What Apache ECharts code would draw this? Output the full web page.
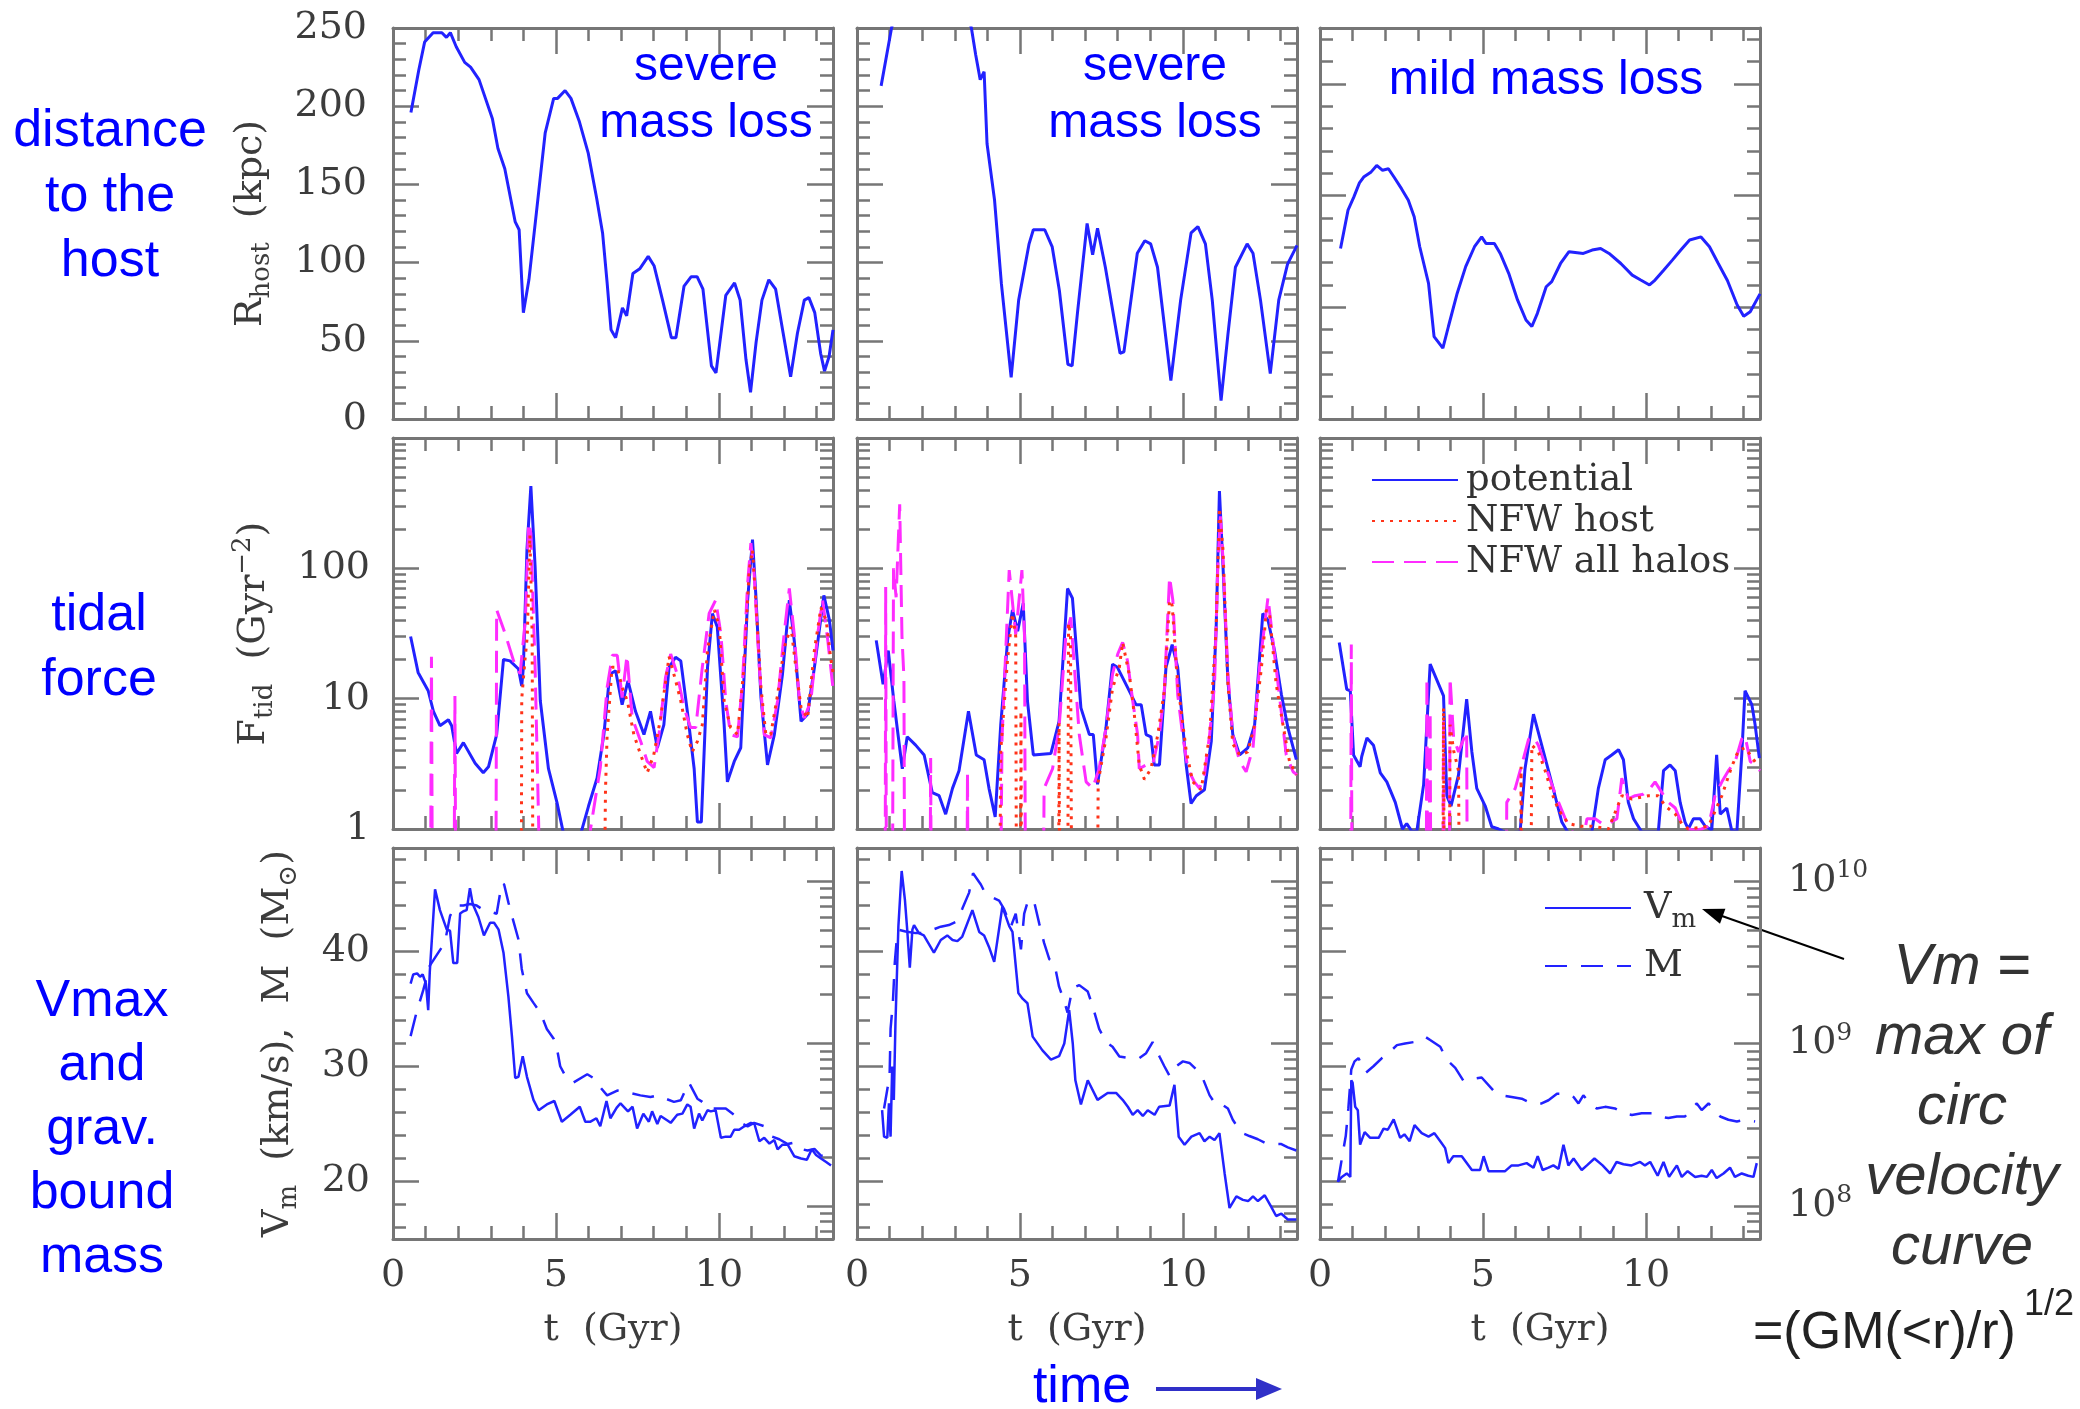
<!DOCTYPE html>
<html>
<head>
<meta charset="utf-8">
<title>Distance, tidal force and bound mass of three subhalos</title>
<script src="https://cdn.jsdelivr.net/npm/echarts@6/dist/echarts.min.js"></script>
<style>
  html, body { margin: 0; padding: 0; background: #fff; }
  #main { width: 2080px; height: 1409px; }
</style>
</head>
<body>
<div id="main"></div>
<script>
// ---- axes / ticks ----
var T_MAX = 13.5;
var tMajor = [0, 5, 10];
var tMinor = [1, 2, 3, 4, 6, 7, 8, 9, 11, 12, 13];
var rMax = [250, 250, 175];
var rMajor = [0, 50, 100, 150, 200, 250];
var rMinor = [10, 20, 30, 40, 60, 70, 80, 90, 110, 120, 130, 140, 160, 170, 180, 190, 210, 220, 230, 240];
var fMin = 1, fMax = 1000;
var fMinorTicks = [2, 3, 4, 5, 6, 7, 8, 9, 20, 30, 40, 50, 60, 70, 80, 90, 200, 300, 400, 500, 600, 700, 800, 900];
var vMin = 15, vMax = 49;
var vMajor = [20, 30, 40];
var vMinor = [16, 18, 22, 24, 26, 28, 32, 34, 36, 38, 42, 44, 46, 48];
var mMin = 6.24e7, mMax = 1.603e10;
var mMinorTicks = [7e7, 8e7, 9e7, 2e8, 3e8, 4e8, 5e8, 6e8, 7e8, 8e8, 9e8, 2e9, 3e9, 4e9, 5e9, 6e9, 7e9, 8e9, 9e9];

// ---- row 1: distance to the host, R_host (kpc) vs t (Gyr) ----
var rHostA = [[0.55,196],[0.79,223],[0.97,241],[1.23,247],[1.50,247],[1.64,244],[1.76,247],[1.94,238],[2.20,228],[2.38,225],[2.64,217],[3.05,192],[3.22,173],[3.43,160],[3.75,126],[3.87,121],[4.00,68],[4.17,89],[4.40,132],[4.67,183],[4.93,205],[5.05,205],[5.28,210],[5.46,205],[5.72,190],[5.99,170],[6.25,141],[6.43,119],[6.57,87],[6.69,57],[6.83,52],[7.04,71],[7.17,66],[7.36,93],[7.57,96],[7.83,104],[8.01,98],[8.27,76],[8.54,52],[8.68,52],[8.93,85],[9.15,91],[9.33,91],[9.51,83],[9.77,34],[9.91,29.5],[10.21,79],[10.48,87],[10.65,76],[10.83,38],[10.97,17],[11.14,49],[11.32,76],[11.53,89],[11.74,83],[11.97,55],[12.20,27],[12.41,55],[12.62,76],[12.76,77.6],[12.94,68],[13.12,42],[13.24,30.6],[13.38,40],[13.5,57]];
var rHostB = [[0.74,213],[1.06,250],[1.5,285],[2.3,300],[3.0,285],[3.51,250],[3.64,233],[3.78,217],[3.90,222],[3.99,176],[4.22,140],[4.43,86.5],[4.73,26.7],[4.96,76],[5.28,112],[5.41,121],[5.76,121],[5.99,110],[6.21,82],[6.47,35],[6.60,34],[6.77,69],[7.06,125],[7.23,105],[7.38,122],[7.62,97],[8.07,42],[8.19,43],[8.60,106],[8.83,114],[9.01,112],[9.22,97],[9.63,24.6],[9.93,76],[10.25,119],[10.46,123],[10.69,112],[10.90,76],[11.17,11.8],[11.38,54],[11.61,97],[11.97,112],[12.15,106],[12.38,76],[12.68,29],[12.94,76],[13.21,99],[13.5,111]];
var rHostC = [[0.63,76.3],[0.86,93.5],[1.04,99.4],[1.21,105.7],[1.34,108.3],[1.57,110.6],[1.74,113.5],[1.92,111.3],[2.10,112],[2.27,108.3],[2.50,103.1],[2.71,97.9],[2.89,90.5],[3.06,77.1],[3.33,60.7],[3.50,36.9],[3.77,31.7],[3.94,41.4],[4.21,56.3],[4.47,68.2],[4.74,77.1],[4.96,81.5],[5.09,78.6],[5.35,78.6],[5.53,74.1],[5.79,65.2],[6.06,53.3],[6.32,44.3],[6.50,41.4],[6.67,47.3],[6.94,59.2],[7.11,61.5],[7.38,69.6],[7.64,74.9],[8.08,74.1],[8.35,75.6],[8.61,76.3],[8.87,74.1],[9.23,69.6],[9.58,64.4],[9.84,62.2],[10.11,60.0],[10.28,62.2],[10.55,66.7],[10.81,71.1],[11.07,75.6],[11.34,80.1],[11.69,81.5],[11.95,77.1],[12.22,69.6],[12.5,62],[12.8,51],[13.0,46],[13.2,48],[13.5,56]];

// ---- row 2: tidal force F_tid (Gyr^-2); values under 1 fall below the axis ----
var fPotA = [[0.54,30],[0.77,15.9],[1.08,11.5],[1.24,8.0],[1.44,6.2],[1.70,6.9],[1.80,6.2],[1.95,3.8],[2.16,4.6],[2.52,3.2],[2.77,2.7],[2.93,3.0],[3.18,5.3],[3.39,20],[3.59,19.5],[3.85,16.9],[3.95,12.5],[4.0,17.4],[4.11,139],[4.23,428],[4.36,103],[4.52,9.6],[4.77,2.9],[5.03,1.6],[5.24,0.9],[5.75,0.9],[6.0,1.5],[6.26,2.45],[6.47,5.3],[6.65,15.4],[6.83,16.4],[7.03,9.0],[7.21,13.7],[7.44,8.0],[7.70,5.3],[7.90,8.0],[8.11,4.2],[8.31,6.3],[8.47,17.4],[8.67,20.8],[8.83,19.5],[9.03,8.0],[9.24,2.9],[9.34,1.13],[9.46,1.13],[9.65,17.4],[9.80,45],[9.95,35.4],[10.16,6.3],[10.26,2.3],[10.47,3.3],[10.67,4.2],[10.88,57],[11.03,166],[11.13,64],[11.29,10.2],[11.49,3.1],[11.70,5.3],[11.95,15.4],[12.16,57],[12.31,28],[12.52,6.7],[12.72,7.6],[12.93,17.4],[13.22,62],[13.39,40],[13.5,23.4]];
var fHostA = [[0.5,0.05],[3.93,0.05],[3.95,10],[4.05,20],[4.12,30],[4.2,180],[4.27,30],[4.3,0.05],[6.45,0.05],[6.52,2],[6.57,5.3],[6.72,17.4],[6.88,17.4],[7.03,12.2],[7.19,9.6],[7.39,5.3],[7.60,3.7],[7.80,2.7],[8.0,3.7],[8.21,7.1],[8.47,21],[8.67,13.8],[8.83,9.6],[9.03,5.3],[9.18,3.9],[9.34,4.7],[9.49,6.3],[9.65,23.6],[9.86,48],[10.01,35.5],[10.16,9.6],[10.36,6],[10.57,5.3],[10.77,17.4],[10.93,98],[11.03,138],[11.13,57],[11.29,12.2],[11.44,5.3],[11.59,5.3],[11.80,10.7],[12.0,24.5],[12.21,35.5],[12.36,17.4],[12.52,8.5],[12.72,7.1],[12.93,23.6],[13.13,50],[13.29,40],[13.44,19.5],[13.5,16]];
var fAllA = [[0.5,0.05],[1.14,0.05],[1.18,21],[1.22,0.05],[1.86,0.05],[1.90,10.5],[1.94,0.05],[3.15,0.05],[3.18,48],[3.44,31.6],[3.70,19.5],[3.90,15.5],[4.06,40],[4.16,224],[4.23,186],[4.36,17.4],[4.47,1.07],[4.5,0.05],[6.0,0.05],[6.06,1.0],[6.36,2.96],[6.57,12.2],[6.73,21.5],[6.88,21.5],[7.03,10.2],[7.18,21.5],[7.34,7.1],[7.60,4.7],[7.80,3.3],[8.01,2.96],[8.16,5.3],[8.36,14.5],[8.52,22],[8.72,15.4],[8.93,8.5],[9.13,6],[9.29,6],[9.49,17.4],[9.70,45],[9.90,57],[10.06,31.4],[10.21,9.6],[10.36,5.3],[10.57,5.1],[10.72,12.9],[10.88,76],[10.98,156],[11.08,91],[11.24,17.4],[11.39,5.3],[11.59,5],[11.80,9.6],[12.0,31.4],[12.16,70],[12.31,31.4],[12.47,9.6],[12.62,7.1],[12.82,9.6],[13.03,31.4],[13.18,57],[13.34,28],[13.5,12]];

var fPotB = [[0.59,28],[0.80,12.9],[0.96,23.4],[1.13,9.6],[1.39,2.9],[1.54,5.1],[1.80,4.4],[2.06,3.7],[2.31,1.9],[2.52,1.8],[2.72,1.3],[2.93,2.05],[3.13,2.8],[3.42,8.0],[3.66,3.7],[3.90,3.4],[4.05,2.05],[4.24,1.24],[4.41,6.3],[4.62,28],[4.77,48],[4.93,33],[5.10,54],[5.23,9.6],[5.41,3.7],[5.95,3.8],[6.20,6.7],[6.46,70],[6.61,59],[6.87,8.5],[7.13,5.3],[7.25,5.3],[7.38,2.2],[7.64,6.0],[7.84,18.4],[7.99,17.4],[8.30,12.2],[8.56,9.0],[8.72,9.0],[8.87,5.3],[9.02,5.1],[9.12,3.1],[9.28,3.1],[9.48,17.4],[9.67,26],[9.84,17.4],[10.10,3.1],[10.25,1.57],[10.41,1.8],[10.66,2.0],[10.87,4.7],[11.02,35],[11.12,392],[11.23,103],[11.38,13.7],[11.53,5.3],[11.74,3.7],[11.99,4.2],[12.20,6.3],[12.45,45],[12.61,40],[12.81,23.4],[13.02,10.8],[13.22,6.0],[13.48,3.4]];
var fHostB = [[0.55,0.05],[4.36,0.05],[4.41,4],[4.62,20],[4.77,45],[4.87,30],[4.90,0.05],[5.01,0.05],[5.03,8],[5.06,0.05],[6.18,0.05],[6.20,6.5],[6.23,0.05],[6.46,0.05],[6.49,38],[6.55,30],[6.6,0.05],[7.36,0.05],[7.40,2.3],[7.64,5],[7.84,12],[8.05,17.4],[8.15,27],[8.36,15],[8.51,7.5],[8.66,3.1],[8.82,2.4],[9.02,2.9],[9.23,5.3],[9.43,11.5],[9.59,57],[9.67,52],[9.84,13],[10.10,4],[10.30,2.3],[10.56,2],[10.82,5.3],[11.02,35],[11.12,290],[11.23,138],[11.38,13],[11.53,4.5],[11.74,3.7],[11.99,3.9],[12.20,6.3],[12.41,17.4],[12.56,48],[12.66,44],[12.86,13],[13.07,6.3],[13.27,3.3],[13.48,2.6]];
var fAllB = [[0.55,0.05],[0.86,0.05],[0.88,72],[0.91,0.05],[1.08,0.05],[1.12,100],[1.2,60],[1.31,310],[1.38,30],[1.44,14.5],[1.47,0.05],[2.23,0.05],[2.26,3.5],[2.29,0.05],[3.36,0.05],[3.39,2.75],[3.42,0.05],[4.38,0.05],[4.45,5],[4.67,97],[4.87,31],[5.06,97],[5.14,30],[5.18,0.05],[5.7,0.05],[5.74,2.05],[6.0,2.9],[6.2,6],[6.41,31],[6.56,42],[6.67,17.4],[6.82,5.3],[7.03,2.3],[7.23,2.05],[7.43,2.9],[7.64,6],[7.84,15.4],[8.0,22],[8.15,27],[8.30,19.5],[8.46,9.6],[8.61,5.3],[8.66,2.9],[8.87,3.1],[9.07,3.1],[9.28,5.3],[9.43,11.5],[9.59,86],[9.69,57],[9.84,10.7],[9.99,5.3],[10.15,2.9],[10.35,2.3],[10.51,2.05],[10.66,2.6],[10.82,5.3],[10.97,12.9],[11.07,103],[11.15,251],[11.23,116],[11.38,15.4],[11.53,5.3],[11.74,3.3],[11.94,2.75],[12.15,4.2],[12.35,17.4],[12.61,60],[12.76,28],[12.97,10.1],[13.17,3.7],[13.38,2.75],[13.5,2.6]];

var fPotC = [[0.59,27],[0.82,11.8],[0.93,11.5],[1.03,3.7],[1.08,3.5],[1.23,3.0],[1.28,3.6],[1.44,5.0],[1.64,4.4],[1.85,2.7],[2.05,2.3],[2.31,1.6],[2.53,1.0],[2.66,1.1],[2.82,0.96],[2.97,0.96],[3.18,2.2],[3.38,18.4],[3.79,10.5],[3.89,1.8],[4.02,1.5],[4.25,2.6],[4.50,9.9],[4.66,3.9],[4.81,2.05],[5.07,1.5],[5.27,1.04],[5.48,1.0],[5.73,0.93],[6.14,0.95],[6.29,2.9],[6.55,7.6],[7.01,2.8],[7.21,1.8],[7.42,1.13],[7.62,0.93],[8.34,0.95],[8.54,2.05],[8.75,3.4],[8.95,3.7],[9.16,4.06],[9.31,3.4],[9.46,1.6],[9.62,1.2],[9.87,0.95],[10.38,0.95],[10.54,2.8],[10.74,3.1],[10.90,2.8],[11.05,1.6],[11.20,1.13],[11.30,1.0],[11.46,1.2],[11.66,1.2],[11.82,1.05],[12.02,0.98],[12.17,3.7],[12.28,1.3],[12.48,1.45],[12.63,0.98],[12.79,0.95],[12.94,3.7],[13.04,11.5],[13.25,9.0],[13.35,6.3],[13.48,3.5]];
var fHostC = [[0.55,0.05],[3.76,0.05],[3.79,8.5],[3.82,0.05],[3.96,0.05],[3.99,6.3],[4.1,4],[4.25,2.8],[4.30,0.05],[6.14,0.05],[6.17,3],[6.2,0.05],[6.45,0.05],[6.50,4.4],[6.70,3.9],[6.91,2.8],[7.11,1.9],[7.32,1.4],[7.62,1.1],[8.0,1.05],[8.34,1.05],[8.85,1.0],[9.26,1.8],[9.57,1.7],[10.08,1.8],[10.38,1.8],[10.59,1.5],[10.90,1.3],[11.10,1.1],[11.30,1.0],[11.92,1.05],[12.33,1.8],[12.63,3.0],[12.84,4.0],[13.04,4.2],[13.24,3.6],[13.45,3.0]];
var fAllC = [[0.55,0.05],[0.93,0.05],[0.96,26],[0.99,0.05],[3.25,0.05],[3.28,14.5],[3.31,0.05],[3.35,0.05],[3.38,8],[3.41,0.05],[3.76,0.05],[3.79,7],[3.82,0.05],[3.96,0.05],[3.99,14.5],[4.1,5],[4.25,3.9],[4.50,5.6],[4.53,0.05],[5.70,0.05],[5.73,1.6],[5.99,2.05],[6.19,3.1],[6.40,4.9],[6.55,5.1],[6.70,4.4],[6.91,3.1],[7.11,2.2],[7.32,1.6],[7.62,1.05],[7.72,0.98],[7.9,0.8],[8.1,0.9],[8.19,1.2],[8.44,1.2],[8.65,1.1],[8.85,1.1],[9.11,1.2],[9.26,2.45],[9.46,1.7],[9.67,1.8],[9.92,1.85],[10.13,2.05],[10.28,2.3],[10.49,1.9],[10.69,1.6],[10.90,1.45],[11.10,1.1],[11.30,1.0],[11.51,0.98],[11.71,1.0],[11.92,1.05],[12.12,1.8],[12.33,2.3],[12.53,2.8],[12.74,3.3],[12.94,4.9],[13.04,5.2],[13.20,3.3],[13.35,3.1],[13.5,2.8]];

// ---- row 3: Vm (km/s, left axis) and bound mass M (Msun, right log axis) ----
var vmA = [[0.54,37.2],[0.62,38.0],[0.74,38.1],[0.83,37.8],[0.91,38.0],[1.01,37.2],[1.08,34.9],[1.13,38.3],[1.29,45.4],[1.44,43.6],[1.65,41.9],[1.75,41.8],[1.85,39.0],[1.97,39.0],[2.06,43.3],[2.16,43.5],[2.26,43.6],[2.36,45.5],[2.45,44.1],[2.62,43.0],[2.79,41.4],[2.98,42.5],[3.10,42.5],[3.24,41.9],[3.39,39.9],[3.54,36.1],[3.65,32.6],[3.75,29.0],[3.85,29.1],[3.98,30.9],[4.11,29.1],[4.31,27.1],[4.47,26.2],[4.72,26.7],[4.95,27.0],[5.18,25.2],[5.44,25.8],[5.73,26.5],[5.90,25.2],[6.06,25.2],[6.24,25.5],[6.36,24.8],[6.55,27.0],[6.67,25.5],[6.86,26.4],[6.98,26.8],[7.21,26.1],[7.35,26.5],[7.49,24.6],[7.68,25.9],[7.85,25.2],[7.95,26.1],[8.11,25.0],[8.21,25.7],[8.42,25.3],[8.52,25.1],[8.72,25.8],[8.88,25.9],[9.03,26.7],[9.13,26.5],[9.24,24.6],[9.39,25.9],[9.49,25.3],[9.65,26.2],[9.75,26.1],[9.90,26.2],[10.06,23.8],[10.21,23.9],[10.36,23.9],[10.47,24.5],[10.62,24.5],[10.78,24.8],[10.98,25.1],[11.09,25.0],[11.24,23.5],[11.39,23.8],[11.55,23.3],[11.70,23.6],[11.80,22.8],[11.95,23.2],[12.11,23.2],[12.31,22.2],[12.52,22.0],[12.70,21.9],[12.85,22.8],[12.98,22.3],[13.13,22.0],[13.29,21.7],[13.44,21.4]];
var massA = [[0.54,1.11e9],[0.72,1.55e9],[0.93,2.14e9],[1.13,3.02e9],[1.39,3.63e9],[1.59,4.17e9],[1.75,6.10e9],[1.90,7.08e9],[2.16,7.08e9],[2.36,7.24e9],[2.57,7.08e9],[2.72,6.76e9],[3.18,6.31e9],[3.34,9.77e9],[3.41,9.55e9],[3.54,7.41e9],[3.70,5.62e9],[3.85,4.37e9],[3.95,2.88e9],[4.11,2.04e9],[4.31,1.78e9],[4.52,1.55e9],[4.72,1.23e9],[4.93,1.07e9],[5.01,9.77e8],[5.13,7.24e8],[5.34,6.03e8],[5.54,5.75e8],[5.96,6.46e8],[6.21,6.03e8],[6.36,5.37e8],[6.57,4.79e8],[6.88,5.13e8],[7.18,5.01e8],[7.59,4.79e8],[7.90,4.68e8],[8.11,4.79e8],[8.36,4.57e8],[8.62,4.37e8],[8.83,4.47e8],[9.08,5.75e8],[9.34,4.57e8],[9.49,4.37e8],[9.70,3.98e8],[10.21,3.98e8],[10.47,3.63e8],[10.67,3.24e8],[10.88,3.09e8],[11.08,3.24e8],[11.39,3.09e8],[11.59,2.69e8],[11.85,2.57e8],[12.11,2.40e8],[12.31,2.45e8],[12.52,2.24e8],[12.72,2.19e8],[12.93,2.24e8],[13.13,2.04e8],[13.44,2.00e8]];

var vmB = [[0.77,26.2],[0.83,23.9],[0.93,23.8],[0.98,26.8],[1.03,23.9],[1.08,30],[1.13,27.1],[1.18,33.8],[1.27,42.2],[1.37,47.0],[1.47,44.5],[1.54,41.9],[1.62,38.6],[1.70,41.9],[1.75,42.3],[1.90,41.6],[2.05,41.4],[2.36,39.9],[2.57,41.0],[2.77,41.4],[2.93,41.0],[3.08,40.9],[3.23,41.3],[3.54,43.6],[3.75,41.7],[3.90,41.4],[4.05,40.4],[4.21,39.1],[4.46,43.9],[4.67,42.2],[4.77,41.7],[4.95,36.4],[5.08,35.9],[5.23,35.5],[5.39,32.6],[5.69,31.4],[5.95,30.6],[6.20,30.9],[6.36,32.0],[6.51,34.9],[6.62,32.0],[6.70,28.8],[6.87,26.7],[7.08,28.8],[7.38,27.1],[7.69,27.7],[7.95,27.7],[8.15,27.1],[8.31,26.5],[8.46,25.8],[8.61,26.2],[8.77,25.7],[8.92,26.2],[9.13,25.8],[9.27,26.5],[9.59,26.6],[9.74,28.4],[9.87,23.9],[10.05,23.2],[10.26,23.9],[10.51,24.2],[10.66,23.5],[10.82,23.9],[10.97,23.6],[11.12,24.2],[11.28,20.7],[11.43,17.7],[11.64,18.7],[11.84,18.4],[12.0,18.3],[12.15,18.7],[12.30,18.3],[12.51,18.8],[12.71,17.8],[12.86,17.0],[13.02,17.2],[13.22,16.7],[13.48,16.7]];
var massB = [[0.83,3.98e8],[1.0,6.31e8],[1.03,1.23e9],[1.10,1.78e9],[1.16,3.16e9],[1.21,4.17e9],[1.29,5.01e9],[1.49,4.90e9],[1.80,4.79e9],[2.05,4.79e9],[2.57,5.25e9],[2.82,5.37e9],[3.03,5.62e9],[3.23,6.76e9],[3.44,8.51e9],[3.56,1.12e10],[3.80,9.55e9],[3.95,8.32e9],[4.16,7.94e9],[4.36,7.59e9],[4.51,6.76e9],[4.72,5.25e9],[4.87,6.31e9],[5.03,3.80e9],[5.13,6.31e9],[5.26,7.76e9],[5.44,7.41e9],[5.59,5.50e9],[5.74,4.17e9],[5.90,3.31e9],[6.05,3.16e9],[6.20,2.24e9],[6.36,1.82e9],[6.46,1.55e9],[6.61,2.19e9],[6.82,2.29e9],[7.08,2.09e9],[7.23,1.70e9],[7.43,1.23e9],[7.64,1.02e9],[7.84,9.55e8],[8.05,8.32e8],[8.36,8.13e8],[8.66,8.13e8],[8.87,8.71e8],[9.07,1.02e9],[9.28,8.32e8],[9.43,7.24e8],[9.59,6.31e8],[9.79,7.24e8],[10.0,7.76e8],[10.20,7.59e8],[10.41,6.92e8],[10.62,6.03e8],[10.82,4.79e8],[11.02,4.17e8],[11.23,4.17e8],[11.38,3.98e8],[11.53,3.39e8],[11.79,2.82e8],[12.04,2.69e8],[12.30,2.57e8],[12.51,2.45e8],[12.76,2.40e8],[13.02,2.40e8],[13.22,2.29e8],[13.48,2.19e8]];

var vmC = [[0.55,20.0],[0.67,20.4],[0.82,20.7],[0.93,20.4],[0.96,28.8],[1.0,28.6],[1.08,26.5],[1.16,26.2],[1.23,23.2],[1.37,24.3],[1.54,23.8],[1.80,23.8],[1.95,24.6],[2.08,24.5],[2.26,25.4],[2.46,23.8],[2.59,24.1],[2.75,23.5],[2.90,24.9],[3.12,24.2],[3.33,23.9],[3.51,24.2],[3.69,23.5],[3.84,22.9],[3.94,21.6],[4.09,22.2],[4.35,22.2],[4.66,21.0],[4.91,21.0],[5.02,22.2],[5.17,20.9],[5.42,20.9],[5.68,20.9],[5.88,21.4],[6.09,21.4],[6.34,21.6],[6.55,21.2],[6.68,22.2],[6.83,21.0],[7.01,21.2],[7.16,21.4],[7.32,21.1],[7.47,23.2],[7.62,21.4],[7.78,22.0],[8.03,21.0],[8.19,21.4],[8.42,22.0],[8.67,21.4],[8.90,20.7],[9.10,21.7],[9.31,21.5],[9.56,21.4],[9.82,21.7],[9.97,21.4],[10.13,21.7],[10.36,20.5],[10.54,21.7],[10.71,20.4],[10.95,21.4],[11.10,20.4],[11.28,20.9],[11.51,20.4],[11.71,20.5],[11.87,20.4],[12.02,21.0],[12.17,20.3],[12.38,20.7],[12.58,21.2],[12.73,20.4],[12.94,20.7],[13.14,20.5],[13.30,20.4],[13.40,21.6]];
var massC = [[0.55,1.40e8],[0.67,1.95e8],[0.79,2.69e8],[0.87,3.98e8],[0.96,6.92e8],[1.06,7.76e8],[1.18,8.13e8],[1.28,7.41e8],[1.41,6.61e8],[1.64,7.24e8],[1.90,8.13e8],[2.10,8.71e8],[2.36,9.77e8],[2.61,1.00e9],[2.87,1.02e9],[3.07,1.07e9],[3.23,1.10e9],[3.38,1.05e9],[3.69,9.55e8],[3.84,8.32e8],[3.99,7.59e8],[4.15,7.08e8],[4.40,5.89e8],[4.66,6.03e8],[4.96,6.17e8],[5.32,5.13e8],[5.58,4.79e8],[5.88,4.68e8],[6.19,4.57e8],[6.50,4.27e8],[6.80,4.27e8],[7.01,4.47e8],[7.27,4.90e8],[7.57,4.90e8],[7.78,4.68e8],[7.93,4.27e8],[8.08,4.79e8],[8.29,4.27e8],[8.49,3.98e8],[8.75,4.07e8],[9.05,3.98e8],[9.31,3.72e8],[9.57,3.63e8],[9.87,3.72e8],[10.18,3.72e8],[10.43,3.55e8],[10.69,3.47e8],[10.95,3.55e8],[11.20,3.55e8],[11.41,3.98e8],[11.56,4.27e8],[11.71,3.89e8],[11.92,4.27e8],[12.07,3.98e8],[12.28,3.55e8],[12.53,3.39e8],[12.79,3.31e8],[13.04,3.39e8],[13.35,3.31e8]];

var rHost = [rHostA, rHostB, rHostC];
var fPot = [fPotA, fPotB, fPotC];
var fHost = [fHostA, fHostB, fHostC];
var fAll = [fAllA, fAllB, fAllC];
var vm = [vmA, vmB, vmC];
var mass = [massA, massB, massC];

// ---- layout / style ----
var FRAME = '#767676';
var TXT = '#3c3c3c';
var SERIF = '"DejaVu Serif", serif';
var SANS = '"Liberation Sans", Arial, sans-serif';
var LINE_BLUE = '#2222ff';
var RED = '#ff3319';
var MAGENTA = '#ff2cff';
var colLeft = [393, 857, 1320];
var rowTop = [28, 438, 848];
var PW = 440, PH = 391;

var grid = [], xAxis = [], yAxis = [], series = [];

var subRich = {
  t: { fontFamily: SERIF, fontSize: 38, color: TXT, lineHeight: 48 },
  s: { fontFamily: SERIF, fontSize: 26, color: TXT, lineHeight: 24, verticalAlign: 'bottom' },
  p: { fontFamily: SERIF, fontSize: 26, color: TXT, lineHeight: 24, verticalAlign: 'top' }
};

function tickLabel(extra) {
  var o = { show: true, fontFamily: SERIF, fontSize: 38, color: TXT, margin: 24 };
  for (var k in extra) o[k] = extra[k];
  return o;
}

function frameAxis(g, pos, range, ticks, len, line) {
  var a = {
    gridIndex: g, position: pos,
    type: range.log ? 'log' : 'value',
    min: range.min, max: range.max,
    axisLine: { show: line, onZero: false, lineStyle: { color: FRAME, width: 3 } },
    axisTick: { show: true, inside: true, length: len, lineStyle: { color: FRAME, width: 2.5 } },
    axisLabel: { show: false },
    splitLine: { show: false },
    nameMoveOverlap: false
  };
  if (range.log) a.logBase = 10;
  if (ticks) a.axisTick.customValues = ticks;
  return a;
}

// one y side = major axis (with frame line) + minor tick axis
function ySide(g, pos, side, label, name) {
  var a = frameAxis(g, pos, side.range, side.ticks, 26, true);
  if (label) a.axisLabel = label;
  if (name) {
    a.name = name.text;
    a.nameLocation = 'middle';
    a.nameGap = name.gap;
    a.nameTextStyle = { rich: subRich };
  }
  yAxis.push(a);
  var idx = yAxis.length - 1;
  yAxis.push(frameAxis(g, pos, side.minorRange || side.range, side.minorTicks, 13, false));
  return idx;
}

function log10All(arr) { return arr.map(function (v) { return Math.log10(v); }); }

function rowSides(r, c) {
  if (r === 0) {
    var m = rMax[c];
    var s = {
      range: { min: 0, max: m },
      ticks: rMajor.filter(function (v) { return v <= m; }),
      minorTicks: rMinor.filter(function (v) { return v < m; })
    };
    return [s, s];
  }
  if (r === 1) {
    var f = {
      range: { log: true, min: fMin, max: fMax },
      minorRange: { min: 0, max: 3 },
      minorTicks: log10All(fMinorTicks)
    };
    return [f, f];
  }
  return [
    { range: { min: vMin, max: vMax }, ticks: vMajor, minorTicks: vMinor },
    { range: { log: true, min: mMin, max: mMax },
      minorRange: { min: Math.log10(mMin), max: Math.log10(mMax) },
      minorTicks: log10All(mMinorTicks) }
  ];
}

var yNames = [
  { text: '{t|R}{s|host}{t|  (kpc)}', gap: 118 },
  { text: '{t|F}{s|tid}{t|  (Gyr}{p|−2}{t|)}', gap: 115 },
  { text: '{t|V}{s|m}{t|  (km/s),  M  (M}{s|⊙}{t|)}', gap: 91 }
];

function leftLabel(r) {
  if (r === 0) return tickLabel({ customValues: rMajor, margin: 26 });
  if (r === 1) return tickLabel({ margin: 23, formatter: function (v) { return v > 999 ? '' : String(Math.round(v)); } });
  return tickLabel({ customValues: vMajor, margin: 23 });
}

function massLabel() {
  return tickLabel({
    margin: 28,
    formatter: function (v) {
      var e = Math.log10(v), n = Math.round(e);
      return Math.abs(e - n) < 1e-4 ? '{b|10}{p|' + n + '}' : '';
    },
    rich: {
      b: { fontFamily: SERIF, fontSize: 38, color: TXT, lineHeight: 46 },
      p: { fontFamily: SERIF, fontSize: 25, color: TXT, lineHeight: 24, verticalAlign: 'top' }
    }
  });
}

function line(name, data, xi, yi, color, width, type) {
  series.push({
    type: 'line', name: name, data: data, xAxisIndex: xi, yAxisIndex: yi,
    symbol: 'none', clip: true, silent: true,
    lineStyle: { color: color, width: width, type: type || 'solid' },
    itemStyle: { color: color }
  });
}

for (var r = 0; r < 3; r++) {
  for (var c = 0; c < 3; c++) {
    var g = grid.length;
    grid.push({ left: colLeft[c], top: rowTop[r], width: PW, height: PH, show: false });
    var tRange = { min: 0, max: T_MAX };

    var xb = frameAxis(g, 'bottom', tRange, tMajor, 26, true);
    if (r === 2) {
      xb.axisLabel = tickLabel({ customValues: tMajor, margin: 18 });
      xb.name = 't  (Gyr)';
      xb.nameLocation = 'middle';
      xb.nameGap = 67;
      xb.nameTextStyle = { fontFamily: SERIF, fontSize: 38, color: TXT, lineHeight: 48 };
    }
    xAxis.push(xb);
    var xi = xAxis.length - 1;
    xAxis.push(frameAxis(g, 'bottom', tRange, tMinor, 13, false));
    xAxis.push(frameAxis(g, 'top', tRange, tMajor, 26, true));
    xAxis.push(frameAxis(g, 'top', tRange, tMinor, 13, false));

    var sides = rowSides(r, c);
    var yl = ySide(g, 'left', sides[0], c === 0 ? leftLabel(r) : null, c === 0 ? yNames[r] : null);
    var yr = ySide(g, 'right', sides[1], (r === 2 && c === 2) ? massLabel() : null, null);

    if (r === 0) {
      line('R_host', rHost[c], xi, yl, LINE_BLUE, 3);
    } else if (r === 1) {
      line('potential', fPot[c], xi, yl, LINE_BLUE, 3);
      line('NFW all halos', fAll[c], xi, yl, MAGENTA, 3, [22, 10]);
      line('NFW host', fHost[c], xi, yl, RED, 3, [3, 6]);
    } else {
      line('Vm', vm[c], xi, yl, LINE_BLUE, 2.5);
      line('M', mass[c], xi, yr, LINE_BLUE, 2.5, [22, 14]);
    }
  }
}

function txt(x, y, text, size, color, extra) {
  var st = { text: text, fontFamily: SANS, fontSize: size, fill: color, align: 'center', verticalAlign: 'top', lineHeight: size * 1.25 };
  for (var k in extra) st[k] = extra[k];
  return { type: 'text', x: x, y: y, style: st, silent: true };
}

var BLUE = '#0000ff';
var graphic = [
  txt(110, 99, 'distance\nto the\nhost', 52, BLUE, { lineHeight: 65 }),
  txt(99, 583, 'tidal\nforce', 52, BLUE, { lineHeight: 65 }),
  txt(102, 970, 'Vmax\nand\ngrav.\nbound\nmass', 52, BLUE, { lineHeight: 64 }),
  txt(706, 38, 'severe\nmass loss', 48, BLUE, { lineHeight: 57 }),
  txt(1155, 38, 'severe\nmass loss', 48, BLUE, { lineHeight: 57 }),
  txt(1546, 52, 'mild mass loss', 48, BLUE, { lineHeight: 57 }),
  txt(1962, 933, 'Vm =\nmax of\ncirc\nvelocity\ncurve', 58, '#333333', { lineHeight: 70, fontStyle: 'italic' }),
  txt(1753, 1308, '=(GM(<r)/r)', 52, '#222222', { align: 'left', lineHeight: 52 }),
  txt(2024, 1287, '1/2', 36, '#222222', { align: 'left', lineHeight: 36 }),
  txt(1082, 1362, 'time', 52, BLUE, { lineHeight: 52 }),
  { type: 'line', shape: { x1: 1156, y1: 1389, x2: 1262, y2: 1389 }, style: { stroke: '#3030c8', lineWidth: 4 }, silent: true },
  { type: 'polygon', shape: { points: [[1282, 1389], [1256, 1378], [1256, 1400]] }, style: { fill: '#3030c8' }, silent: true },
  { type: 'line', shape: { x1: 1844, y1: 959, x2: 1722, y2: 916 }, style: { stroke: '#000', lineWidth: 2 }, silent: true },
  { type: 'polygon', shape: { points: [[1702, 909], [1725.4, 908.8], [1720, 923.8]] }, style: { fill: '#000' }, silent: true }
];

// legend samples show only the line, no marker
var noMarker = { color: 'rgba(0,0,0,0)', borderColor: 'rgba(0,0,0,0)', borderWidth: 0, opacity: 0 };

var chart = echarts.init(document.getElementById('main'));
chart.setOption({
  animation: false,
  backgroundColor: '#ffffff',
  grid: grid,
  xAxis: xAxis,
  yAxis: yAxis,
  legend: [
    {
      left: 1366, top: 455, orient: 'vertical', selectedMode: false,
      itemWidth: 86, itemHeight: 20, itemGap: 1,
      itemStyle: noMarker,
      data: ['potential', 'NFW host', 'NFW all halos'],
      textStyle: { fontFamily: SERIF, fontSize: 37, color: '#333', lineHeight: 40, padding: [0, 0, 0, 3] }
    },
    {
      left: 1539, top: 884, orient: 'vertical', selectedMode: false,
      itemWidth: 86, itemHeight: 20, itemGap: 14,
      itemStyle: noMarker,
      data: ['Vm', 'M'],
      formatter: function (n) { return n === 'Vm' ? '{v|V}{s|m}' : '{v|M}'; },
      textStyle: {
        padding: [0, 0, 0, 8],
        rich: {
          v: { fontFamily: SERIF, fontSize: 38, color: '#333', lineHeight: 50 },
          s: { fontFamily: SERIF, fontSize: 26, color: '#333', lineHeight: 20, verticalAlign: 'bottom' }
        }
      }
    }
  ],
  graphic: graphic,
  series: series
});
</script>
</body>
</html>
